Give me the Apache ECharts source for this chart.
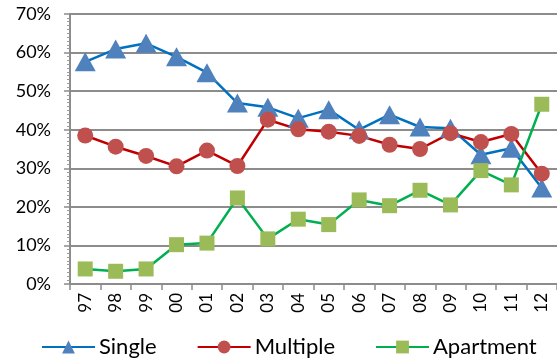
<!DOCTYPE html>
<html>
<head>
<meta charset="utf-8">
<script src="https://cdn.jsdelivr.net/npm/echarts@6/dist/echarts.min.js"></script>
<style>
html,body{margin:0;padding:0;background:#fff;}
#chart{width:557px;height:362px;}
</style>
</head>
<body>
<div id="chart"></div>
<script>
const categories = ['97','98','99','00','01','02','03','04','05','06','07','08','09','10','11','12'];
const singleValues = [57.6, 60.9, 62.4, 58.9, 54.8, 46.9, 45.8, 43.0, 45.2, 40.0, 43.9, 40.7, 40.4, 33.5, 35.2, 24.9];
const multipleValues = [38.5, 35.6, 33.2, 30.5, 34.6, 30.6, 42.6, 40.1, 39.5, 38.4, 36.1, 35.0, 39.1, 36.8, 38.9, 28.6];
const apartmentValues = [3.9, 3.3, 3.9, 10.2, 10.6, 22.3, 11.7, 16.8, 15.4, 21.8, 20.3, 24.3, 20.5, 29.4, 25.7, 46.6];

const FONT = 'Lato';
const chart = echarts.init(document.getElementById('chart'), null, {renderer: 'canvas'});
function lineSeries(name, data, lineColor, markColor, symbol, size) {
  return {
    name: name, type: 'line', data: data,
    symbol: symbol, symbolSize: size, showAllSymbol: true,
    lineStyle: {color: lineColor, width: 2.5},
    itemStyle: {color: markColor, borderWidth: 0},
    emphasis: {disabled: true},
    animation: false
  };
}
chart.setOption({
  animation: false,
  grid: {left: 70, width: 488, top: 14, height: 270},
  legend: {
    top: 331, left: 36, padding: 5,
    itemWidth: 53, itemHeight: 16, itemGap: 40,
    textStyle: {fontFamily: FONT, fontSize: 22, color: '#000', padding: [0, 0, 0, -1]},
    data: ['Single', 'Multiple', 'Apartment']
  },
  xAxis: {
    type: 'category', data: categories, boundaryGap: true,
    axisLine: {lineStyle: {color: '#8c8c8c', width: 2}},
    axisTick: {show: true, length: 6, lineStyle: {color: '#8c8c8c', width: 1.5}},
    axisLabel: {rotate: 90, margin: 9, fontFamily: FONT, fontSize: 17, color: '#000'},
    splitLine: {show: false}
  },
  yAxis: {
    type: 'value', min: 0, max: 70, interval: 10,
    axisLine: {show: true, lineStyle: {color: '#8c8c8c', width: 2}},
    axisTick: {show: true, length: 6, lineStyle: {color: '#8c8c8c', width: 1.5}},
    minorTick: {show: true, splitNumber: 10, length: 3, lineStyle: {color: '#9a9a9a', width: 1}},
    axisLabel: {formatter: '{value}%', margin: 19, fontFamily: FONT, fontSize: 18, color: '#000'},
    splitLine: {show: true, lineStyle: {color: '#8c8c8c', width: 2}}
  },
  series: [
    lineSeries('Single', singleValues, '#0070C0', '#4F81BD', 'triangle', [21, 19]),
    lineSeries('Multiple', multipleValues, '#C00000', '#C0504D', 'circle', 16),
    lineSeries('Apartment', apartmentValues, '#00B050', '#9BBB59', 'rect', 15)
  ]
});
</script>
</body>
</html>
